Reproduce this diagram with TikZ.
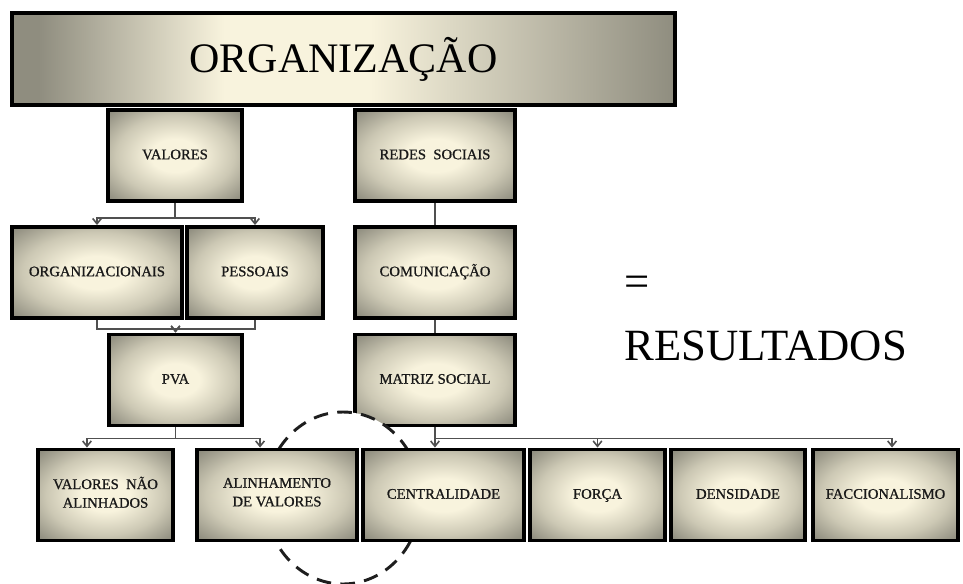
\documentclass[tikz,border=0pt]{standalone}
\usepackage{fontspec}
\setmainfont{Liberation Serif}
\newfontfamily\boxfont[FakeBold=0.9]{Liberation Serif}
\usetikzlibrary{positioning,arrows.meta,shapes.geometric}
\definecolor{cLight}{RGB}{248,243,221}
\definecolor{cMid}  {RGB}{204,200,180}
\definecolor{cDark} {RGB}{143,141,127}
\definecolor{cLine} {RGB}{80,80,80}
\definecolor{cRing} {RGB}{30,30,30}
\pgfdeclareradialshading{boxshade}{\pgfpoint{0bp}{0bp}}{%
  color(0bp)=(cLight); color(9bp)=(cLight); color(22bp)=(cMid);
  color(34bp)=(cDark); color(50bp)=(cDark)}
\pgfdeclarehorizontalshading{bannershade}{100bp}{%
  color(0bp)=(cDark); color(27bp)=(cDark); color(41bp)=(cLight);
  color(52bp)=(cLight); color(75bp)=(cDark); color(100bp)=(cDark)}

\begin{document}
\begin{tikzpicture}[x=0.75pt, y=-0.75pt]

%% ── shared styles ─────────────────────────────────────────────────────────
\tikzset{
  box/.style={
    rectangle, draw=black, line width=2.7pt,
    shade, shading=boxshade,
    minimum width=#1*0.75pt, minimum height=68.5pt,
    align=center, inner sep=2pt, text=black!90,
    font=\boxfont\fontsize{11}{14}\selectfont,
    execute at begin node=\strut, execute at end node=\strut
  },
  banner/.style={
    rectangle, draw=black, line width=2.7pt,
    shade, shading=bannershade,
    minimum width=497pt, minimum height=69pt,
    font=\fontsize{31.5}{36}\selectfont
  },
  bigtxt/.style={anchor=base west, inner sep=0pt, font=\fontsize{33.5}{38}\selectfont},
  conn/.style={-{Straight Barb[length=4pt,width=6.5pt]}, line width=1.2pt, cLine},
  link/.style={line width=1.2pt, cLine},
  focus/.style={
    ellipse, draw=cRing, fill=white, line width=2.2pt,
    dash pattern=on 11pt off 7pt,
    minimum width=117pt, minimum height=129pt
  },
}

\useasboundingbox (0,0) rectangle (963,583);

%% ── column x-centres ──────────────────────────────────────────────────────
\def\cA{175}
\def\cB{435}

%% ── row y-centres ─────────────────────────────────────────────────────────
%  row 0 : banner        y =  59
%  row 1 : valores/redes y = 155.5
%  row 2 : tipos         y = 272.5
%  row 3 : pva/matriz    y = 380
%  row 4 : resultados    y = 495

%% ══════════════════════════════════════════════════════════════════════════
%% TOP
%% ══════════════════════════════════════════════════════════════════════════
\node[banner]   (org0) at (343.5,59)  {ORGANIZAÇÃO};

%% ══════════════════════════════════════════════════════════════════════════
%% LEFT BRANCH  –  valores
%% ══════════════════════════════════════════════════════════════════════════
\node[box=134]  (val)  at (\cA,155.5) {VALORES};
\node[box=170]  (orgn) at (97,272.5)  {ORGANIZACIONAIS};
\node[box=136]  (pes)  at (255,272.5) {PESSOAIS};
\node[box=133]  (pva)  at (175.5,380) {PVA};

\draw[conn] (val.south)  -- ++(0,15) -| (orgn.north);
\draw[conn] (val.south)  -- ++(0,15) -| (pes.north);
\draw[conn] (orgn.south) -- ++(0,9)  -| (pva.north);
\draw[conn] (pes.south)  -- ++(0,9)  -| (pva.north);

%% ══════════════════════════════════════════════════════════════════════════
%% RIGHT BRANCH  –  redes sociais
%% ══════════════════════════════════════════════════════════════════════════
\node[box=160]  (red)  at (\cB,155.5) {REDES\ \ SOCIAIS};
\node[box=160]  (com)  at (\cB,272.5) {COMUNICAÇÃO};
\node[box=160]  (mat)  at (\cB,380)   {MATRIZ SOCIAL};

\draw[link] (red) -- (com);
\draw[link] (com) -- (mat);

% highlight ring (sits under the bottom row)
\node[focus] (ring) at (343,498) {};

%% ══════════════════════════════════════════════════════════════════════════
%% BOTTOM ROW
%% ══════════════════════════════════════════════════════════════════════════
\node[box=135]  (vna)  at (105.5,495) {VALORES\ \ NÃO\\ALINHADOS};
\node[box=160]  (ali)  at (277,495)   {ALINHAMENTO\\DE VALORES};
\node[box=161]  (cen)  at (443.5,495) {CENTRALIDADE};
\node[box=135]  (for)  at (597.5,495) {FORÇA};
\node[box=134]  (den)  at (738,495)   {DENSIDADE};
\node[box=145]  (fac)  at (885.5,495) {FACCIONALISMO};

\draw[conn] (pva.south) -- ++(0,11) -| ([xshift=-13.9pt]vna.north);
\draw[conn] (pva.south) -- ++(0,11) -| ([xshift=-12.7pt]ali.north);
\draw[conn] (mat.south) -- ++(0,11) -| ([xshift=-6.4pt]cen.north);
\draw[conn] (mat.south) -- ++(0,11) -| (for.north);
\draw[conn] (mat.south) -- ++(0,11) -| ([xshift=4.9pt]fac.north);

%% ── result text ───────────────────────────────────────────────────────────
\node[bigtxt] (eq)  at (624,296) {=};
\node[bigtxt] (res) at (624,360) {RESULTADOS};

\end{tikzpicture}
\end{document}
